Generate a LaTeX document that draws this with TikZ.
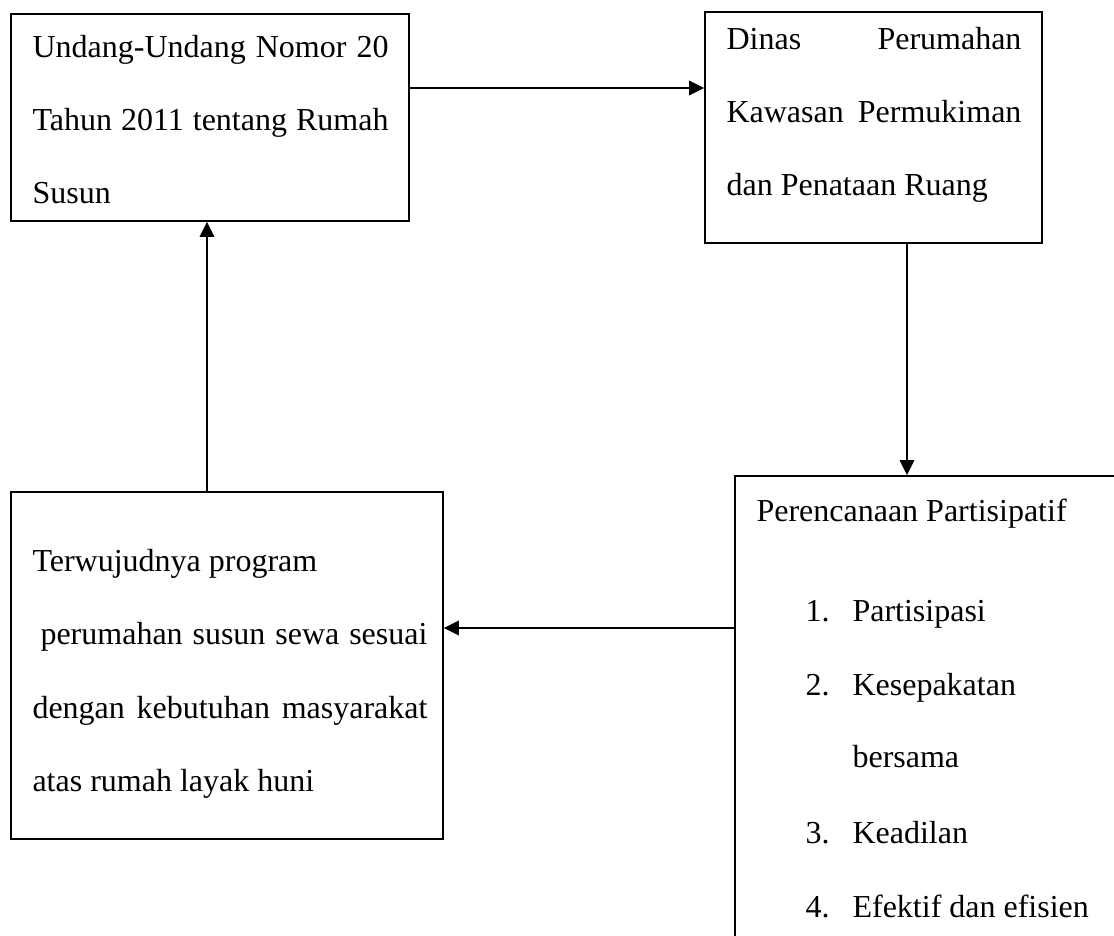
\documentclass[tikz,border=0pt]{standalone}
\usepackage{fontspec}
\setmainfont{Liberation Serif}
\usetikzlibrary{arrows.meta,fit}
\tikzset{
  box/.style={draw, line width=0.65pt, inner sep=0pt, fill=none},
  txt/.style={inner sep=0pt, anchor=base west, font=\fontsize{12}{14}\selectfont},
  arr/.style={line width=0.65pt, -{Triangle[length=5.6pt,width=5.4pt]}}
}
\begin{document}
\begin{tikzpicture}[x=0.375pt, y=-0.375pt]
\clip (0,0) rectangle (1114,935);
\fill[white] (0,0) rectangle (1114,935);
% boxes
\node[box, fit={(11,14) (409,221)}] (b1) {};
\node[box, fit={(705,12) (1042,243)}] (b2) {};
\node[box, fit={(735,476) (1140,980)}] (b3) {};
\node[box, fit={(11,492) (443,839)}] (b4) {};
% box 1 text
\node[txt] (t1a) at (32,57) {\makebox[133.5pt][s]{Undang-Undang Nomor 20}};
\node[txt] (t1b) at (32,130) {\makebox[133.5pt][s]{Tahun 2011 tentang Rumah}};
\node[txt] (t1c) at (32,203) {Susun};
% box 2 text
\node[txt] (t2a) at (726,49) {\makebox[110.6pt][s]{Dinas Perumahan}};
\node[txt] (t2b) at (726,122) {\makebox[110.6pt][s]{Kawasan Permukiman}};
\node[txt] (t2c) at (726,195) {dan Penataan Ruang};
% box 3 text
\node[txt] (t3h) at (756,521) {Perencanaan Partisipatif};
\node[txt] (n1) at (805,621) {1.};
\node[txt] (i1) at (852,621) {Partisipasi};
\node[txt] (n2) at (805,695) {2.};
\node[txt] (i2) at (852,695) {Kesepakatan};
\node[txt] (i2b) at (852,767) {bersama};
\node[txt] (n3) at (805,843) {3.};
\node[txt] (i3) at (852,843) {Keadilan};
\node[txt] (n4) at (805,917) {4.};
\node[txt] (i4) at (852,917) {Efektif dan efisien};
% box 4 text
\node[txt] (t4a) at (32,571) {Terwujudnya program};
\node[txt] (t4b) at (40,644) {\makebox[145.1pt][s]{perumahan susun sewa sesuai}};
\node[txt] (t4c) at (32,718) {\makebox[148.1pt][s]{dengan kebutuhan masyarakat}};
\node[txt] (t4d) at (32,791) {atas rumah layak huni};
% connectors
\draw[arr] (b1.east |- 0,88) -- (b2.west |- 0,88);
\draw[arr] (b2.south -| 907,0) -- (b3.north -| 907,0);
\draw[arr] (b3.west |- 0,628) -- (b4.east |- 0,628);
\draw[arr] (b4.north -| 207,0) -- (b1.south -| 207,0);
\end{tikzpicture}
\end{document}
